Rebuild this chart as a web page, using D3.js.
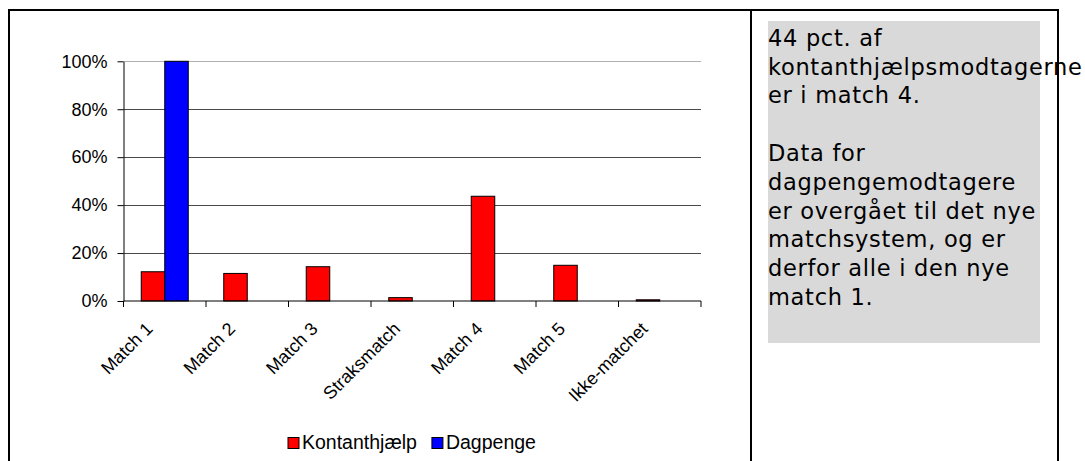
<!DOCTYPE html>
<html>
<head>
<meta charset="utf-8">
<script src="https://cdn.jsdelivr.net/npm/d3@7"></script>
<style>
  body { margin: 0; background: #fff; }
  svg { display: block; }
  .tick-label { font-family: Arial, 'Liberation Sans', sans-serif; font-size: 18px; fill: #000; }
  .legend-label { font-family: Arial, 'Liberation Sans', sans-serif; font-size: 19.5px; fill: #000; }
  .note { font-family: Verdana, 'DejaVu Sans', sans-serif; font-size: 22.5px; letter-spacing: 0.7px; fill: #000; }
</style>
</head>
<body>
<div id="chart"></div>
<script>
// Data
const categories = ['Match 1', 'Match 2', 'Match 3', 'Straksmatch', 'Match 4', 'Match 5', 'Ikke-matchet'];
const kontanthjaelp = [12.2, 11.5, 14.3, 1.4, 43.7, 14.9, 0.5];
const dagpenge = [100, 0, 0, 0, 0, 0, 0];
const seriesNames = ['Kontanthjælp', 'Dagpenge'];
const seriesColors = ['#ff0000', '#0000ff'];
const yTicks = [0, 20, 40, 60, 80, 100];
const noteLines = [
  '44 pct. af',
  'kontanthjælpsmodtagerne',
  'er i match 4.',
  '',
  'Data for',
  'dagpengemodtagere',
  'er overgået til det nye',
  'matchsystem, og er',
  'derfor alle i den nye',
  'match 1.',
];

const width = 1085;
const height = 461;
const plot = { l: 123.5, r: 701, t: 61.3, b: 301 };

const svg = d3
  .select('#chart')
  .append('svg')
  .attr('width', width)
  .attr('height', height);

svg.append('rect').attr('width', width).attr('height', height).attr('fill', '#fff');

// scales
const x0 = d3.scaleBand().domain(categories).range([plot.l, plot.r]).paddingInner(0).paddingOuter(0);
const x1 = d3.scaleBand().domain(seriesNames).range([0, x0.bandwidth()]).paddingInner(0).paddingOuter(0.755);
const y = d3.scaleLinear().domain([0, 100]).range([plot.b, plot.t]);

// gridlines
svg
  .append('g')
  .selectAll('line')
  .data(yTicks.filter((d) => d > 0))
  .join('line')
  .attr('x1', plot.l)
  .attr('x2', plot.r)
  .attr('y1', (d) => Math.round(y(d)) + 0.5)
  .attr('y2', (d) => Math.round(y(d)) + 0.5)
  .attr('stroke', (d) => (d === 100 ? '#b0b0b0' : '#4a4a4a'))
  .attr('stroke-width', 1);

// y axis
const yAxis = svg
  .append('g')
  .attr('transform', `translate(${plot.l},0)`)
  .call(
    d3
      .axisLeft(y)
      .tickValues(yTicks)
      .tickSize(6)
      .tickSizeOuter(0)
      .tickPadding(10)
      .tickFormat((d) => `${d}%`)
  );
yAxis.attr('font-size', null).attr('font-family', null);
yAxis.select('.domain').attr('stroke', '#000');
yAxis.selectAll('.tick line').attr('stroke', '#000');
yAxis.selectAll('text').attr('class', 'tick-label');

// bars
const rows = categories.map((c, i) => ({ cat: c, values: [kontanthjaelp[i], dagpenge[i]] }));
svg
  .append('g')
  .selectAll('g')
  .data(rows)
  .join('g')
  .attr('transform', (d) => `translate(${x0(d.cat)},0)`)
  .selectAll('rect')
  .data((d) => d.values.map((v, j) => ({ key: seriesNames[j], value: v, color: seriesColors[j] })).filter((s) => s.value > 0))
  .join('rect')
  .attr('x', (d) => x1(d.key))
  .attr('y', (d) => y(d.value))
  .attr('width', x1.bandwidth())
  .attr('height', (d) => y(0) - y(d.value))
  .attr('fill', (d) => d.color)
  .attr('stroke', '#000')
  .attr('stroke-width', 1);

// x axis line and boundary ticks
const xg = svg.append('g');
xg.append('line')
  .attr('x1', plot.l)
  .attr('x2', plot.r)
  .attr('y1', plot.b)
  .attr('y2', plot.b)
  .attr('stroke', '#000');
const bounds = categories.map((c) => x0(c)).concat([plot.r]);
xg.selectAll('.xt')
  .data(bounds)
  .join('line')
  .attr('class', 'xt')
  .attr('x1', (d) => d)
  .attr('x2', (d) => d)
  .attr('y1', plot.b)
  .attr('y2', plot.b + 6)
  .attr('stroke', '#000');

// x labels, rotated
xg.selectAll('.xl')
  .data(categories)
  .join('text')
  .attr('class', 'tick-label')
  .attr('text-anchor', 'end')
  .attr('transform', (d) => `translate(${x0(d) + x0.bandwidth() / 2 - 11}, ${plot.b + 29}) rotate(-45)`)
  .text((d) => d);

// legend
const legend = svg.append('g').attr('transform', 'translate(288, 437.5)');
let lx = 0;
seriesNames.forEach((name, i) => {
  legend
    .append('rect')
    .attr('x', lx)
    .attr('y', 0)
    .attr('width', 11)
    .attr('height', 11)
    .attr('fill', seriesColors[i])
    .attr('stroke', '#000')
    .attr('stroke-width', 1);
  const t = legend
    .append('text')
    .attr('class', 'legend-label')
    .attr('x', lx + 14)
    .attr('y', 11)
    .text(name);
  lx += 14 + t.node().getComputedTextLength() + 15;
});

// note box
svg
  .append('rect')
  .attr('x', 768)
  .attr('y', 21)
  .attr('width', 272)
  .attr('height', 322)
  .attr('fill', '#d9d9d9');

svg
  .append('g')
  .selectAll('text')
  .data(noteLines)
  .join('text')
  .attr('class', 'note')
  .attr('x', 768)
  .attr('y', (d, i) => 45.7 + i * 28.8)
  .text((d) => d);

// frames
svg
  .append('rect')
  .attr('x', 9)
  .attr('y', 10)
  .attr('width', 742)
  .attr('height', 480)
  .attr('fill', 'none')
  .attr('stroke', '#000')
  .attr('stroke-width', 2);
svg
  .append('rect')
  .attr('x', 751)
  .attr('y', 10)
  .attr('width', 307)
  .attr('height', 480)
  .attr('fill', 'none')
  .attr('stroke', '#000')
  .attr('stroke-width', 2);
</script>
</body>
</html>
